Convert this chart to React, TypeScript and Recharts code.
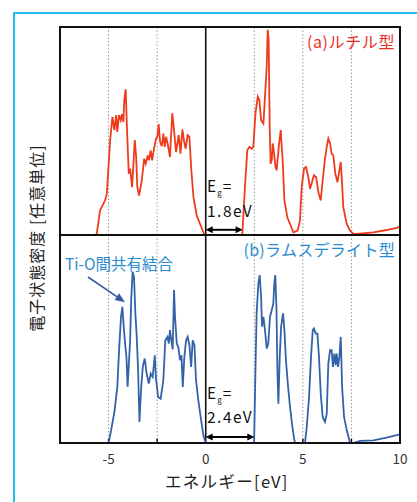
import React from 'react';
import { LineChart, Line, XAxis, YAxis, ReferenceLine } from 'recharts';

// (a) rutile: energy [eV] and DOS [arb. units, 0-100]
const rutileEnergy = [
  -7.5, -5.69, -5.61, -5.44, -5.18, -5.09, -4.92, -4.8, -4.7, -4.61, -4.55, -4.46, -4.37, -4.31, -4.24, -4.19,
  -4.12, -4.05, -3.96, -3.89, -3.79, -3.65, -3.58, -3.52, -3.43, -3.29, -3.17, -3.09, -2.98, -2.92, -2.83, -2.76,
  -2.66, -2.56, -2.49, -2.42, -2.35, -2.26, -2.18, -2.11, -2.04, -1.96, -1.84, -1.72, -1.63, -1.53, -1.39, -1.3,
  -1.2, -1.11, -1.03, -0.93, -0.84, -0.74, -0.63, -0.46, -0.29, -0.09, 0,
  1.88, 2.02, 2.14, 2.25, 2.37, 2.45, 2.56, 2.68, 2.76, 2.85, 2.97, 3.05, 3.14, 3.19, 3.24, 3.29, 3.34, 3.4, 3.45,
  3.52, 3.59, 3.65, 3.76, 3.86, 3.96, 4.05, 4.2, 4.34, 4.51, 4.73, 4.85, 4.94, 5.06, 5.16, 5.28, 5.37, 5.47, 5.57,
  5.68, 5.8, 5.92, 6.02, 6.14, 6.23, 6.31, 6.4, 6.48, 6.57, 6.67, 6.78, 6.88, 6.95, 7.02, 7.08, 7.26, 7.43, 7.6,
  7.77, 8.63, 9.31, 9.83, 10,
];
const rutileDos = [
  0, 0, 0.5, 11.8, 16.6, 19.8, 45.6, 56.8, 50.4, 57.6, 49.6, 57.6, 55.2, 58.1, 54.4, 64.9,
  70.0, 50.4, 29.5, 31.9, 23.0, 45.6, 37.5, 23.0, 19.0, 26.2, 36.7, 34.3, 38.3, 35.9, 40.7, 35.9,
  41.5, 46.4, 47.2, 53.3, 44.8, 42.7, 48.8, 42.4, 47.2, 44.0, 37.5, 58.5, 50.4, 39.9, 48.0, 39.1,
  50.7, 44.8, 41.5, 48.0, 47.2, 31.1, 18.2, 9.3, 5.3, 0.5, 0,
  0, 23.0, 40.7, 42.4, 41.5, 42.4, 58.5, 66.5, 64.9, 55.2, 53.6, 66.5, 81.0, 98.7, 93.9, 53.6, 34.3, 36.0, 44.0,
  39.1, 32.7, 31.1, 42.4, 50.4, 35.9, 16.6, 8.5, 5.3, 1.3, 2.1, 6.9, 23.0, 31.9, 32.7, 27.9, 22.2, 25.4, 28.7,
  27.9, 20.6, 16.6, 26.2, 36.7, 42.4, 46.4, 44.0, 39.1, 38.3, 29.5, 25.4, 31.1, 35.1, 24.6, 13.4, 5.3, 2.1, 0.5,
  0.5, 1.3, 2.4, 3.4, 4.0,
];

// (b) ramsdellite
const ramsEnergy = [
  -7.5, -5.0, -4.87, -4.7, -4.55, -4.45, -4.36, -4.29, -4.22, -4.15, -4.08, -4.02, -3.96, -3.89, -3.83, -3.76,
  -3.69, -3.62, -3.55, -3.48, -3.41, -3.33, -3.24, -3.14, -3.04, -2.93, -2.83, -2.73, -2.62, -2.56, -2.45, -2.32,
  -2.18, -2.08, -1.97, -1.9, -1.84, -1.77, -1.7, -1.63, -1.58, -1.49, -1.41, -1.32, -1.25, -1.18, -1.1, -1.01,
  -0.93, -0.84, -0.75, -0.67, -0.58, -0.5, -0.38, -0.26, -0.12, 0,
  2.49, 2.56, 2.62, 2.71, 2.78, 2.85, 2.9, 2.97, 3.05, 3.14, 3.22, 3.31, 3.4, 3.48, 3.53, 3.58, 3.64, 3.69, 3.74,
  3.81, 3.88, 3.98, 4.05, 4.13, 4.24, 4.34, 4.44, 4.55, 4.6, 5.11, 5.2, 5.32, 5.42, 5.51, 5.57, 5.66, 5.75, 5.83,
  5.92, 6.02, 6.14, 6.23, 6.31, 6.4, 6.48, 6.55, 6.62, 6.69, 6.74, 6.81, 6.88, 6.95, 7.02, 7.12, 7.26, 7.43, 7.6,
  7.94, 8.63, 9.31, 10,
];
const ramsDos = [
  0, 0, 6.1, 14.9, 27.0, 46.2, 60.7, 65.5, 55.9, 47.8, 41.4, 27.0, 37.4, 49.4, 70.3, 82.3,
  79.8, 62.3, 51.0, 35.0, 10.1, 25.4, 36.6, 40.6, 33.4, 28.6, 33.4, 31.8, 42.2, 31.0, 22.1, 21.3,
  30.2, 49.4, 51.0, 47.8, 54.3, 49.4, 45.0, 73.5, 60.7, 47.8, 46.0, 39.8, 42.2, 27.0, 41.4, 49.4,
  51.0, 47.0, 36.6, 49.4, 47.0, 30.2, 20.5, 12.5, 3.7, 0,
  0, 35.0, 62.3, 76.7, 80.7, 70.3, 55.9, 60.7, 54.3, 45.4, 47.8, 60.7, 63.9, 67.1, 76.7, 80.7, 65.5, 35.0, 18.9,
  41.4, 55.9, 62.3, 54.3, 39.8, 27.0, 17.3, 9.3, 2.1, 0, 0, 7.7, 22.1, 41.4, 54.3, 55.1, 52.6, 52.6, 41.4,
  23.8, 12.5, 10.1, 14.1, 38.2, 44.6, 44.6, 36.6, 43.0, 37.4, 43.0, 36.6, 41.4, 51.0, 27.0, 12.5, 6.1, 0, 0,
  1.0, 1.3, 2.6, 4.2,
];

const gridEnergy = [-5, -2.5, 2.5, 5, 7.5];
const xTicks = [-5, 0, 5, 10];
const tickMarks = [-5, -2.5, 5, 7.5];
const rutileGapEdge = 1.9;
const ramsGapEdge = 2.5;

const RED = '#f03a1c';
const BLUE = '#3462a8';
const LABEL_BLUE = '#2b8bd0';
const FONT = '"Noto Sans CJK JP", "Noto Sans", sans-serif';

const toRows = (xs: number[], ys: number[]) => xs.map((e, i) => ({ e, v: ys[i] }));
const rutileData = toRows(rutileEnergy, rutileDos);
const ramsData = toRows(ramsEnergy, ramsDos);

const DoubleArrow = (p: any) => {
  const { x1, y1, x2 } = p;
  const h = 7, w = 3.5;
  return (
    <g>
      <line x1={x1 + h - 1} y1={y1} x2={x2 - h + 1} y2={y1} stroke="#000" strokeWidth={2} />
      <polygon points={`${x1},${y1} ${x1 + h},${y1 - w} ${x1 + h},${y1 + w}`} fill="#000" />
      <polygon points={`${x2},${y1} ${x2 - h},${y1 - w} ${x2 - h},${y1 + w}`} fill="#000" />
    </g>
  );
};

const PointerArrow = (p: any) => {
  const { x1, y1, x2, y2 } = p;
  const dx = x2 - x1, dy = y2 - y1;
  const len = Math.sqrt(dx * dx + dy * dy);
  const ux = dx / len, uy = dy / len;
  const h = 10, w = 4;
  const bx = x2 - ux * h, by = y2 - uy * h;
  return (
    <g>
      <line x1={x1} y1={y1} x2={bx} y2={by} stroke="#3a5aa0" strokeWidth={1.6} />
      <polygon
        points={`${x2},${y2} ${bx - uy * w},${by + ux * w} ${bx + uy * w},${by - ux * w}`}
        fill="#3a5aa0"
      />
    </g>
  );
};

const Panel = ({ data, color, gapEdge, arrowY, bottom }: any) => (
  <LineChart
    width={bottom ? 360 : 340}
    height={bottom ? 238 : 208}
    data={data}
    margin={{ top: 0, right: bottom ? 20 : 0, bottom: 0, left: 0 }}
    style={{ fontFamily: FONT }}
  >
    <XAxis
      dataKey="e"
      type="number"
      domain={[-7.5, 10]}
      ticks={xTicks}
      hide={!bottom}
      height={30}
      axisLine={false}
      tickLine={false}
      tickMargin={5}
      tick={{ fill: '#333', fontSize: 13.5 }}
      allowDataOverflow
    />
    <YAxis type="number" domain={[0, 100]} hide allowDataOverflow />
    {gridEnergy.map((g) => (
      <ReferenceLine key={g} x={g} stroke="#999" strokeDasharray="1.5 2" strokeWidth={1} />
    ))}
    <ReferenceLine x={0} stroke="#111" strokeWidth={1.6} />
    {bottom &&
      tickMarks.map((t) => (
        <ReferenceLine key={'t' + t} segment={[{ x: t, y: 0 }, { x: t, y: 2 }]} stroke="#111" strokeWidth={1.5} />
      ))}
    <Line
      dataKey="v"
      type="linear"
      stroke={color}
      strokeWidth={1.8}
      dot={false}
      isAnimationActive={false}
    />
    <ReferenceLine
      segment={[{ x: 0, y: arrowY }, { x: gapEdge, y: arrowY }]}
      shape={DoubleArrow}
    />
    {bottom && (
      <ReferenceLine
        segment={[{ x: -6.06, y: 79.8 }, { x: -4.15, y: 67.7 }]}
        shape={PointerArrow}
      />
    )}
  </LineChart>
);

const abs = (s: React.CSSProperties): React.CSSProperties => ({ position: 'absolute', whiteSpace: 'nowrap', ...s });

export default function App() {
  return (
    <div style={abs({ left: 0, top: 0, width: 417, height: 502, overflow: 'hidden', background: '#fff', fontFamily: FONT })}>
      <div style={abs({ left: 13, top: 12, width: 500, height: 600, border: '2px solid #22bdf0' })} />
      <div style={abs({ left: 60, top: 27 })}>
        <Panel data={rutileData} color={RED} gapEdge={rutileGapEdge} arrowY={2.5} />
      </div>
      <div style={abs({ left: 60, top: 235 })}>
        <Panel data={ramsData} color={BLUE} gapEdge={ramsGapEdge} arrowY={2.9} bottom />
      </div>
      <div style={abs({ left: 59, top: 26, width: 342, height: 418, border: '2px solid #111', boxSizing: 'border-box' })} />
      <div style={abs({ left: 59, top: 234, width: 342, height: 2, background: '#111' })} />

      <div style={abs({ right: 22, top: 33, color: '#e8301e', fontSize: 16, lineHeight: '16px', letterSpacing: 0.6 })}>(a)ルチル型</div>
      <div style={abs({ right: 22, top: 241, color: LABEL_BLUE, fontSize: 16, lineHeight: '16px', letterSpacing: 0.3 })}>(b)ラムスデライト型</div>
      <div style={abs({ left: 65, top: 255, color: LABEL_BLUE, fontSize: 15.5, lineHeight: '16px' })}>Ti-O間共有結合</div>

      <div style={abs({ left: 207, top: 178, fontSize: 15.5, lineHeight: '15px', color: '#111', letterSpacing: 1 })}>
        E<sub style={{ fontSize: 8 }}>g</sub>=
      </div>
      <div style={abs({ left: 207, top: 203, fontSize: 15.5, lineHeight: '15px', color: '#111', letterSpacing: 1.5 })}>1.8eV</div>
      <div style={abs({ left: 207, top: 385, fontSize: 15.5, lineHeight: '15px', color: '#111', letterSpacing: 1 })}>
        E<sub style={{ fontSize: 8 }}>g</sub>=
      </div>
      <div style={abs({ left: 207, top: 409, fontSize: 15.5, lineHeight: '15px', color: '#111', letterSpacing: 1.5 })}>2.4eV</div>

      <div style={abs({ left: 165, top: 473, fontSize: 16.5, lineHeight: '17px', letterSpacing: 1.3, color: '#222' })}>
        エネルギー[eV]
      </div>
      <div
        style={abs({
          left: 36,
          top: 238,
          transform: 'translate(-50%, -50%) rotate(-90deg)',
          fontSize: 16,
          lineHeight: '16px',
          letterSpacing: 1,
          color: '#222',
        })}
      >
        電子状態密度 [任意単位]
      </div>
    </div>
  );
}
